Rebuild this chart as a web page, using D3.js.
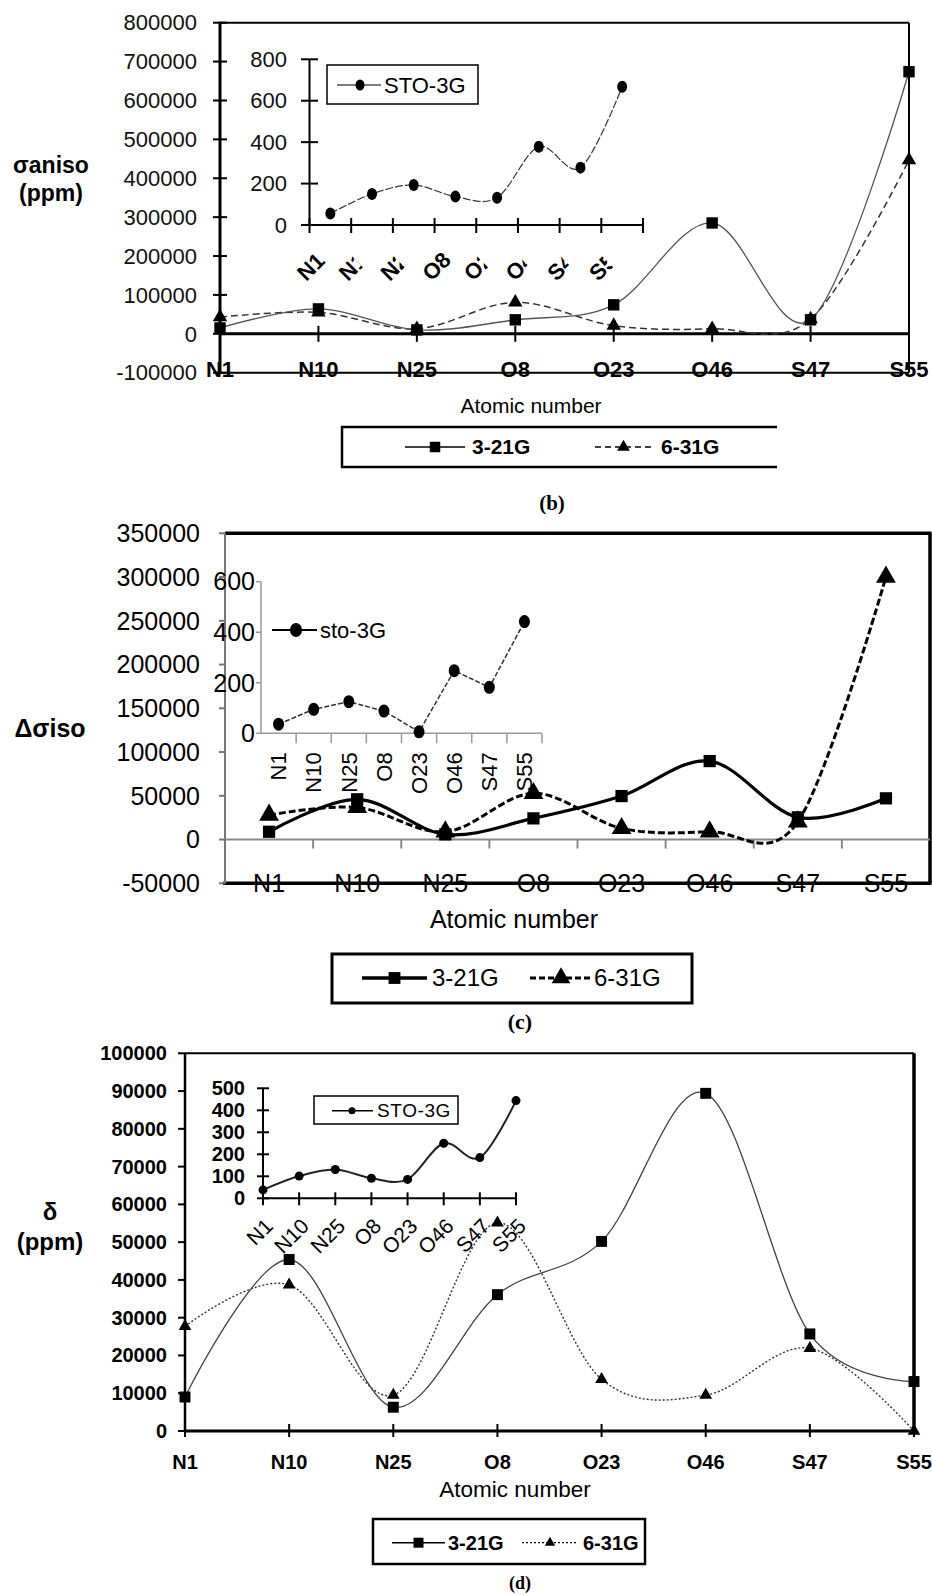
<!DOCTYPE html>
<html>
<head>
<meta charset="utf-8">
<script src="https://cdn.jsdelivr.net/npm/d3@7"></script>
<style>
  body { margin: 0; background: #fff; }
  svg { display: block; font-family: "Liberation Sans", Arial, sans-serif; }
</style>
</head>
<body>
<div id="chart"></div>
<script>
const atoms = ["N1", "N10", "N25", "O8", "O23", "O46", "S47", "S55"];

// (b) anisotropy
const anisoB321 = [15000, 64000, 10000, 36000, 74500, 285000, 36000, 674000];
const anisoB631 = [43000, 55000, 13000, 81000, 21000, 13000, 38000, 447000];
const anisoBSto = [56, 150, 193, 137, 132, 378, 277, 668];
const ticksB = [-100000, 0, 100000, 200000, 300000, 400000, 500000, 600000, 700000, 800000];
const insetTicksB = [0, 200, 400, 600, 800];

// (c) delta sigma iso
const deltaC321 = [8900, 46000, 5900, 24200, 49700, 89700, 25400, 47100];
const deltaC631 = [28000, 36800, 8900, 52800, 12800, 8900, 20300, 300000];
const deltaCSto = [36, 95, 125, 88, 6, 248, 182, 442];
const ticksC = [-50000, 0, 50000, 100000, 150000, 200000, 250000, 300000, 350000];
const insetTicksC = [0, 200, 400, 600];

// (d) delta
const shiftD321 = [9000, 45400, 6300, 36100, 50200, 89400, 25700, 13100];
const shiftD631 = [27700, 38700, 9500, 55100, 13700, 9500, 21900, 0];
const shiftDSto = [38, 101, 131, 91, 86, 250, 185, 444];
const ticksD = [0, 10000, 20000, 30000, 40000, 50000, 60000, 70000, 80000, 90000, 100000];
const insetTicksD = [0, 100, 200, 300, 400, 500];

const width = 932;
const height = 1595;

const svg = d3.select("#chart")
  .append("svg")
  .attr("width", width)
  .attr("height", height);

svg.append("rect").attr("width", width).attr("height", height).attr("fill", "#fff");

const smooth = d3.curveCardinal.tension(0);

function hline(g, x1, x2, y, w, color) {
  g.append("line").attr("x1", x1).attr("x2", x2).attr("y1", y).attr("y2", y)
    .attr("stroke", color || "#000").attr("stroke-width", w);
}
function vline(g, x, y1, y2, w, color) {
  g.append("line").attr("x1", x).attr("x2", x).attr("y1", y1).attr("y2", y2)
    .attr("stroke", color || "#000").attr("stroke-width", w);
}
function label(g, x, y, txt, size, opts) {
  const o = opts || {};
  return g.append("text")
    .attr("x", x).attr("y", y)
    .attr("dy", "0.35em")
    .attr("text-anchor", o.anchor || "middle")
    .attr("font-size", size)
    .attr("font-weight", o.bold ? "bold" : "normal")
    .attr("font-family", o.family || null)
    .attr("fill", o.fill || "#000")
    .text(txt);
}
function series(g, xs, y, values, opts) {
  const line = d3.line()
    .x((d, i) => xs(atoms[i]))
    .y((d) => y(d))
    .curve(opts.curve || d3.curveLinear);
  g.append("path")
    .attr("d", line(values))
    .attr("fill", "none")
    .attr("stroke", opts.stroke || "#000")
    .attr("stroke-width", opts.width || 1)
    .attr("stroke-dasharray", opts.dash || null);
  g.selectAll(null)
    .data(values)
    .enter()
    .append("path")
    .attr("transform", (d, i) => `translate(${xs(atoms[i])},${y(d)})`)
    .attr("d", d3.symbol().type(opts.symbol).size(opts.size))
    .attr("fill", "#000");
}
function legendItem(g, x1, x2, y, symbol, size, lineOpts, txt, tx, fontSize, bold) {
  g.append("line").attr("x1", x1).attr("x2", x2).attr("y1", y).attr("y2", y)
    .attr("stroke", lineOpts.stroke || "#000")
    .attr("stroke-width", lineOpts.width)
    .attr("stroke-dasharray", lineOpts.dash || null);
  g.append("path")
    .attr("transform", `translate(${(x1 + x2) / 2},${y})`)
    .attr("d", d3.symbol().type(symbol).size(size))
    .attr("fill", "#000");
  label(g, tx, y, txt, fontSize, { anchor: "start", bold: bold });
}

// ---------------- panel (b) ----------------
function drawB() {
  const g = svg.append("g");
  const x = d3.scalePoint().domain(atoms).range([220, 909]);
  const y = d3.scaleLinear().domain([-100000, 800000]).range([372.7, 22.7]);
  const y0 = y(0);

  // frame
  hline(g, 220, 909, y(800000), 2);
  vline(g, 909, y(800000), y(-100000), 2);
  hline(g, 220, 909, y(-100000), 2);
  vline(g, 220, y(800000) - 1, y(-100000) + 1, 3);
  hline(g, 220, 909, y0, 3);

  ticksB.forEach((t) => {
    hline(g, 213, 227, y(t), 2);
    label(g, 197, y(t), String(t), 22, { anchor: "end", fill: "#111" });
  });
  atoms.forEach((a) => {
    vline(g, x(a), y0 - 8, y0 + 8, 2);
    label(g, x(a), y(-100000) - 3, a, 22, { bold: true });
  });

  series(g, x, y, anisoB631, { curve: smooth, stroke: "#333", width: 1.5, dash: "7,4", symbol: d3.symbolTriangle, size: 90 });
  series(g, x, y, anisoB321, { curve: smooth, stroke: "#555", width: 1.3, symbol: d3.symbolSquare, size: 130 });

  label(g, 51, 165, "σaniso", 23, { bold: true });
  label(g, 51, 193, "(ppm)", 23, { bold: true });
  label(g, 531, 406, "Atomic number", 21);

  // legend (open on the right like the scan)
  hline(g, 341, 777, 427, 2.5);
  hline(g, 341, 777, 467, 2.5);
  vline(g, 342, 426, 468, 2.5);
  legendItem(g, 405, 465, 447, d3.symbolSquare, 110, { width: 1.5 }, "3-21G", 472, 21, true);
  legendItem(g, 595, 652, 447, d3.symbolTriangle, 70, { width: 1.5, dash: "6,4" }, "6-31G", 661, 21, true);

  label(g, 552, 503, "(b)", 21, { bold: true, family: "Liberation Serif" });

  // inset
  const xi = d3.scaleBand().domain(atoms).range([309.5, 643]);
  const yi = d3.scaleLinear().domain([0, 800]).range([225, 59.3]);
  const cx = (a) => xi(a) + xi.bandwidth() / 2;
  vline(g, 309.5, yi(800), yi(0), 2);
  hline(g, 309.5, 643, yi(0), 2);
  insetTicksB.forEach((t) => {
    hline(g, 301, 318, yi(t), 2);
    label(g, 287, yi(t), String(t), 22, { anchor: "end", fill: "#111" });
  });
  atoms.forEach((a) => vline(g, xi(a), yi(0) - 7, yi(0) + 8, 2));
  vline(g, 643, yi(0) - 7, yi(0) + 8, 2);

  const line = d3.line().x((d, i) => cx(atoms[i])).y((d) => yi(d)).curve(smooth);
  g.append("path").attr("d", line(anisoBSto)).attr("fill", "none")
    .attr("stroke", "#333").attr("stroke-width", 1.2).attr("stroke-dasharray", "8,2");
  g.selectAll(null).data(anisoBSto).enter().append("ellipse")
    .attr("cx", (d, i) => cx(atoms[i])).attr("cy", (d) => yi(d))
    .attr("rx", 5).attr("ry", 6).attr("fill", "#000");

  g.append("rect").attr("x", 327).attr("y", 65).attr("width", 151).attr("height", 39)
    .attr("fill", "#fff").attr("stroke", "#000").attr("stroke-width", 1.5);
  g.append("line").attr("x1", 337).attr("x2", 381).attr("y1", 85).attr("y2", 85)
    .attr("stroke", "#000").attr("stroke-width", 1.2);
  g.append("ellipse").attr("cx", 360).attr("cy", 85).attr("rx", 4.5).attr("ry", 5.5).attr("fill", "#000");
  label(g, 384, 85, "STO-3G", 22, { anchor: "start" });

  // rotated, truncated category labels
  svg.append("defs").append("clipPath").attr("id", "cutB")
    .append("rect").attr("x", -2).attr("y", -30).attr("width", 23).attr("height", 40);
  atoms.forEach((a) => {
    const lg = g.append("g")
      .attr("transform", `translate(${cx(a) - 24},${yi(0) + 57}) rotate(-45)`);
    lg.append("text")
      .attr("font-size", 22)
      .attr("font-weight", "bold")
      .attr("clip-path", a.length > 2 ? "url(#cutB)" : null)
      .text(a);
  });
}

// ---------------- panel (c) ----------------
function drawC() {
  const g = svg.append("g");
  const x = d3.scaleBand().domain(atoms).range([225, 930]);
  const cx = (a) => x(a) + x.bandwidth() / 2;
  const y = d3.scaleLinear().domain([-50000, 350000]).range([883.3, 533.3]);
  const y0 = y(0);

  hline(g, 225, 931.5, y(350000), 3.5);
  vline(g, 930, y(350000), y(-50000), 3.5);
  hline(g, 223, 931.5, y(-50000), 3.5);
  vline(g, 225, y(350000), y(-50000), 2, "#777");
  hline(g, 225, 930, y0, 2, "#888");

  ticksC.forEach((t) => {
    hline(g, 219, 225, y(t), 2, "#777");
    label(g, 200, y(t), String(t), 25, { anchor: "end" });
  });
  atoms.forEach((a) => {
    if (a !== atoms[0]) vline(g, x(a), y0, y0 + 9, 2, "#888");
    label(g, cx(a), y(-50000), a, 25);
  });

  series(g, cx, y, deltaC631, { curve: smooth, width: 3, dash: "7,3", symbol: d3.symbolTriangle, size: 170 });
  series(g, cx, y, deltaC321, { curve: smooth, width: 3.2, symbol: d3.symbolSquare, size: 150 });

  label(g, 50, 728, "Δσiso", 25, { bold: true });
  label(g, 514, 919, "Atomic number", 25);

  g.append("rect").attr("x", 332).attr("y", 954).attr("width", 360).attr("height", 49)
    .attr("fill", "none").attr("stroke", "#000").attr("stroke-width", 3);
  legendItem(g, 362, 427, 978, d3.symbolSquare, 140, { width: 3.5 }, "3-21G", 432, 24, false);
  legendItem(g, 530, 592, 978, d3.symbolTriangle, 150, { width: 3, dash: "6,3" }, "6-31G", 594, 24, false);

  label(g, 520, 1021, "(c)", 22, { bold: true, family: "Liberation Serif" });

  // inset
  const xi = d3.scaleBand().domain(atoms).range([261, 542]);
  const ci = (a) => xi(a) + xi.bandwidth() / 2;
  const yi = d3.scaleLinear().domain([0, 600]).range([733.3, 581.7]);
  vline(g, 261, yi(600), yi(0), 1.5, "#999");
  hline(g, 261, 542, yi(0), 1.5, "#999");
  insetTicksC.forEach((t) => {
    hline(g, 256, 261, yi(t), 1.5, "#999");
    label(g, 255, yi(t), String(t), 25, { anchor: "end" });
  });
  atoms.forEach((a) => vline(g, xi(a) + xi.bandwidth(), yi(0), yi(0) + 10, 1.5, "#999"));

  const line = d3.line().x((d, i) => ci(atoms[i])).y((d) => yi(d));
  g.append("path").attr("d", line(deltaCSto)).attr("fill", "none")
    .attr("stroke", "#333").attr("stroke-width", 1.5).attr("stroke-dasharray", "5,2");
  g.selectAll(null).data(deltaCSto).enter().append("ellipse")
    .attr("cx", (d, i) => ci(atoms[i])).attr("cy", (d) => yi(d))
    .attr("rx", 5.5).attr("ry", 6.5).attr("fill", "#000");

  g.append("line").attr("x1", 272).attr("x2", 317).attr("y1", 630).attr("y2", 630)
    .attr("stroke", "#000").attr("stroke-width", 2);
  g.append("ellipse").attr("cx", 296).attr("cy", 630).attr("rx", 6).attr("ry", 7).attr("fill", "#000");
  label(g, 320, 630, "sto-3G", 22, { anchor: "start" });

  atoms.forEach((a) => {
    g.append("text")
      .attr("transform", `translate(${ci(a)},${yi(0) + 19}) rotate(-90)`)
      .attr("text-anchor", "end")
      .attr("dy", "0.35em")
      .attr("font-size", 22)
      .text(a);
  });
}

// ---------------- panel (d) ----------------
function drawD() {
  const g = svg.append("g");
  const x = d3.scalePoint().domain(atoms).range([185, 914]);
  const y = d3.scaleLinear().domain([0, 100000]).range([1431, 1053.3]);
  const y0 = y(0);

  hline(g, 185, 914, y(100000), 2);
  vline(g, 914, y(100000), y0, 3.5);
  vline(g, 185, y(100000), y0 + 1, 2.5);
  hline(g, 185, 914, y0, 3);

  ticksD.forEach((t) => {
    hline(g, 178, 185, y(t), 2);
    label(g, 167, y(t), String(t), 20, { anchor: "end", bold: true });
  });
  atoms.forEach((a) => {
    vline(g, x(a), y0 - 7, y0 + 6, 2);
    label(g, x(a), 1462, a, 20, { bold: true });
  });

  series(g, x, y, shiftD631, { curve: smooth, stroke: "#333", width: 1.4, dash: "2,2", symbol: d3.symbolTriangle, size: 70 });
  series(g, x, y, shiftD321, { curve: smooth, stroke: "#444", width: 1.3, symbol: d3.symbolSquare, size: 120 });

  label(g, 50, 1212, "δ", 24, { bold: true });
  label(g, 50, 1242, "(ppm)", 24, { bold: true });
  label(g, 515, 1489, "Atomic number", 22.5);

  g.append("rect").attr("x", 373).attr("y", 1519).attr("width", 272).attr("height", 45)
    .attr("fill", "none").attr("stroke", "#000").attr("stroke-width", 2.5);
  legendItem(g, 392, 445, 1542.7, d3.symbolSquare, 100, { width: 1.5 }, "3-21G", 448, 20, true);
  legendItem(g, 522, 578, 1542.7, d3.symbolTriangle, 45, { width: 1.3, dash: "2,2" }, "6-31G", 583, 20, true);

  label(g, 520, 1583, "(d)", 18, { bold: true, family: "Liberation Serif" });

  // inset
  const xi = d3.scalePoint().domain(atoms).range([263, 516]);
  const yi = d3.scaleLinear().domain([0, 500]).range([1198.3, 1088.3]);
  vline(g, 263, yi(500), yi(0), 2);
  hline(g, 263, 516, yi(0), 2);
  insetTicksD.forEach((t) => {
    hline(g, 257, 269, yi(t), 2);
    label(g, 245, yi(t), String(t), 20, { anchor: "end", bold: true });
  });
  atoms.forEach((a) => vline(g, xi(a), yi(0) - 6, yi(0) + 7, 2));

  const line = d3.line().x((d, i) => xi(atoms[i])).y((d) => yi(d)).curve(smooth);
  g.append("path").attr("d", line(shiftDSto)).attr("fill", "none")
    .attr("stroke", "#222").attr("stroke-width", 2);
  g.selectAll(null).data(shiftDSto).enter().append("circle")
    .attr("cx", (d, i) => xi(atoms[i])).attr("cy", (d) => yi(d))
    .attr("r", 4.5).attr("fill", "#000");

  g.append("rect").attr("x", 314).attr("y", 1096).attr("width", 144).attr("height", 28)
    .attr("fill", "#fff").attr("stroke", "#000").attr("stroke-width", 1.5);
  g.append("line").attr("x1", 332).attr("x2", 373).attr("y1", 1110.7).attr("y2", 1110.7)
    .attr("stroke", "#000").attr("stroke-width", 1.5);
  g.append("circle").attr("cx", 352).attr("cy", 1110.7).attr("r", 3.5).attr("fill", "#000");
  label(g, 377, 1110.7, "STO-3G", 19, { anchor: "start" }).attr("letter-spacing", 0.6);

  atoms.forEach((a) => {
    g.append("text")
      .attr("transform", `translate(${xi(a) + 6},${yi(0) + 24}) rotate(-45)`)
      .attr("text-anchor", "end")
      .attr("dy", "0.35em")
      .attr("font-size", 21)
      .text(a);
  });
}

drawB();
drawC();
drawD();
</script>
</body>
</html>
